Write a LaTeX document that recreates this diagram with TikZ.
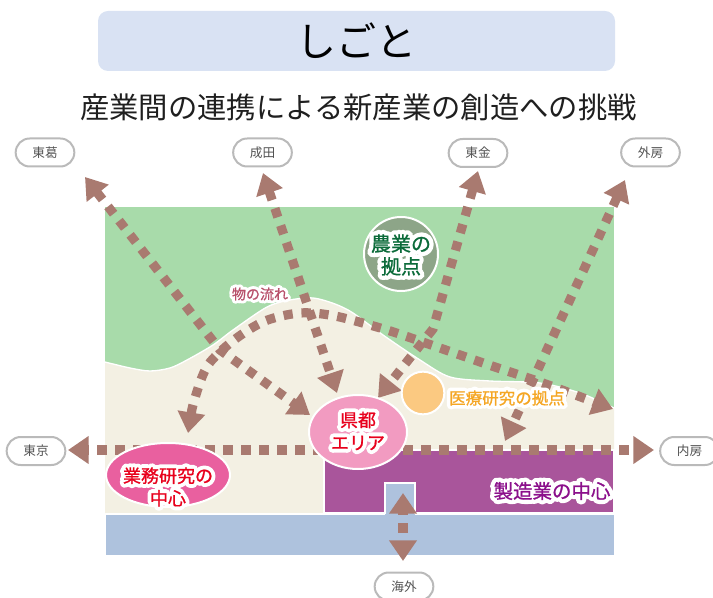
\documentclass[tikz,border=0pt]{standalone}
\usepackage{fontspec}
\setmainfont{Noto Sans CJK JP}
\usetikzlibrary{arrows.meta,shapes.geometric}
\definecolor{flowc}{HTML}{A97A70}
\definecolor{titlec}{HTML}{D9E2F3}
\definecolor{greenc}{HTML}{A8DBAA}
\definecolor{beigec}{HTML}{F3F0E3}
\definecolor{purplec}{HTML}{A9559B}
\definecolor{bluec}{HTML}{AEC2DD}
\definecolor{bizc}{HTML}{E9609F}
\definecolor{prefc}{HTML}{F29BC1}
\definecolor{medc}{HTML}{FBC981}
\definecolor{agric}{HTML}{8DA588}
\definecolor{agrit}{HTML}{0B6B3A}
\definecolor{redt}{HTML}{E8001C}
\definecolor{oranget}{HTML}{F5A623}
\definecolor{purplet}{HTML}{8B0F8B}
\definecolor{flowt}{HTML}{B8506A}
\newcommand{\halotext}[2]{\leavevmode\special{pdf:code 1 j 1 J}\rlap{\addfontfeature{FakeBold=45}\color{white}#2}{\addfontfeature{FakeBold=1}\textcolor{#1}{#2}}}
\tikzset{
  pill/.style={draw=black!27,line width=1.5pt,fill=white,rounded corners=10.5pt,minimum width=44pt,minimum height=21pt,inner sep=0pt,text=black!68,font=\fontsize{9.5}{11}\selectfont},
  flow/.style={draw=flowc,line width=6.9pt,dash pattern=on 6.9pt off 6.6pt,line join=miter},
  both/.style={flow,{Triangle[length=15.5pt,width=20pt]}-{Triangle[length=15.5pt,width=20pt]}},
  spot/.style={draw=white,line width=1.5pt,inner sep=0pt},
  lbl/.style={inner sep=0pt,align=center}
}
\begin{document}
\begin{tikzpicture}[x=0.75pt,y=-0.75pt]
\useasboundingbox (0,0) rectangle (713,598);
\fill[titlec] (98,11) [rounded corners=7.5pt] rectangle (615,71);
\node[lbl,font=\fontsize{30}{36}\selectfont] (title) at (356,41) {しごと};
\node[lbl,font=\fontsize{22}{26}\selectfont,text=black!88] (sub) at (358.5,107) {産業間の連携による新産業の創造への挑戦};
% land
\fill[greenc] (105,207) rectangle (614,410);
\fill[beigec] (105,513) -- plot[smooth] coordinates {(105,362) (130,368) (150,371) (170,368) (187,360) (213,345) (233,330) (267,307) (290,300) (313,298) (335,304) (353,313) (383,335) (420,360) (450,377) (490,381) (540,383) (580,393) (614,408)} -- (614,513) -- cycle;
\draw[white,line width=1pt] plot[smooth] coordinates {(105,362) (130,368) (150,371) (170,368) (187,360) (213,345) (233,330) (267,307) (290,300) (313,298) (335,304) (353,313) (383,335) (420,360) (450,377) (490,381) (540,383) (580,393) (614,408)};
\fill[bluec] (106,514) rectangle (614,555);
\draw[white,line width=1.5pt,fill=purplec] (324,513) -- (324,450) -- (614,450) -- (614,513) -- cycle;
\draw[white,line width=1.5pt,fill=bluec] (385,513.5) -- (385,483) -- (415,483) -- (415,513.5);
\fill[bluec] (386,505) rectangle (414,516);
\draw[white,line width=1.5pt] (106,513.5) -- (385,513.5) (415,513.5) -- (614,513.5);
% destination labels
\node[pill] (tk) at (45,152.5) {東葛};
\node[pill] (nr) at (262.5,152.5) {成田};
\node[pill] (tg) at (478,153) {東金};
\node[pill] (sb) at (650.5,152.5) {外房};
\node[pill] (tky) at (36,451) {東京};
\node[pill] (ub) at (689.5,451) {内房};
\node[pill] (ov) at (404,586.5) {海外};
% connector ends
\coordinate (a0) at (85,177); \coordinate (a1) at (220,350); \coordinate (a2) at (310,415);
\coordinate (b0) at (263,173); \coordinate (b1) at (337,393);
\coordinate (c0) at (478,171); \coordinate (c1) at (433,329); \coordinate (c2) at (378,398);
\coordinate (d0) at (625,180); \coordinate (d1) at (505,441);
\coordinate (e0) at (188,433); \coordinate (e1) at (613,409);
\coordinate (h0) at (68,450); \coordinate (h1) at (654,450);
\coordinate (v0) at (403,493); \coordinate (v1) at (403,561);
% connectors
\draw[both] (a0) -- (a1) -- (a2);
\draw[both] (b0) -- (b1);
\draw[both] (c0) -- (c1) -- (c2);
\draw[both] (d0) -- (d1);
\draw[both] plot[smooth] coordinates {(e0) (195,398) (208,365) (234,340) (265,321) (300,313) (335,316) (387,330) (437,347) (489,365) (540,382) (e1)};
\draw[both,dash phase=6pt] (h0) -- (h1);
\draw[both,dash phase=5.25pt] (v0) -- (v1);
% places
\node[spot,fill=agric,circle,minimum size=55.5pt] (agri) at (401,254) {};
\node[lbl,font=\fontsize{15}{18}\selectfont] (agrit) at (401,255) {\halotext{agrit}{農業の}\\[-1pt]\halotext{agrit}{拠点}};
\node[spot,fill=bizc,ellipse,minimum width=93pt,minimum height=48pt] (biz) at (168,475) {};
\node[lbl,font=\fontsize{13.5}{17}\selectfont] (bizt) at (168,487) {\halotext{redt}{業務研究の}\\\halotext{redt}{中心}};
\node[spot,fill=prefc,ellipse,minimum width=73.5pt,minimum height=55.5pt] (pref) at (358,432) {};
\node[lbl,font=\fontsize{13.5}{17}\selectfont] (preft) at (358,431) {\halotext{redt}{県都}\\\halotext{redt}{エリア}};
\node[spot,fill=medc,circle,minimum size=32pt] (med) at (423,393) {};
\node[lbl,font=\fontsize{12.4}{15}\selectfont] (medt) at (507,398) {\halotext{oranget}{医療研究の拠点}};
\node[lbl,font=\fontsize{14.6}{18}\selectfont] (manu) at (552,491) {\halotext{purplet}{製造業の中心}};
\node[lbl,font=\fontsize{10.5}{13}\selectfont] (flowl) at (260,294) {\halotext{flowt}{物の流れ}};
\end{tikzpicture}
\end{document}
